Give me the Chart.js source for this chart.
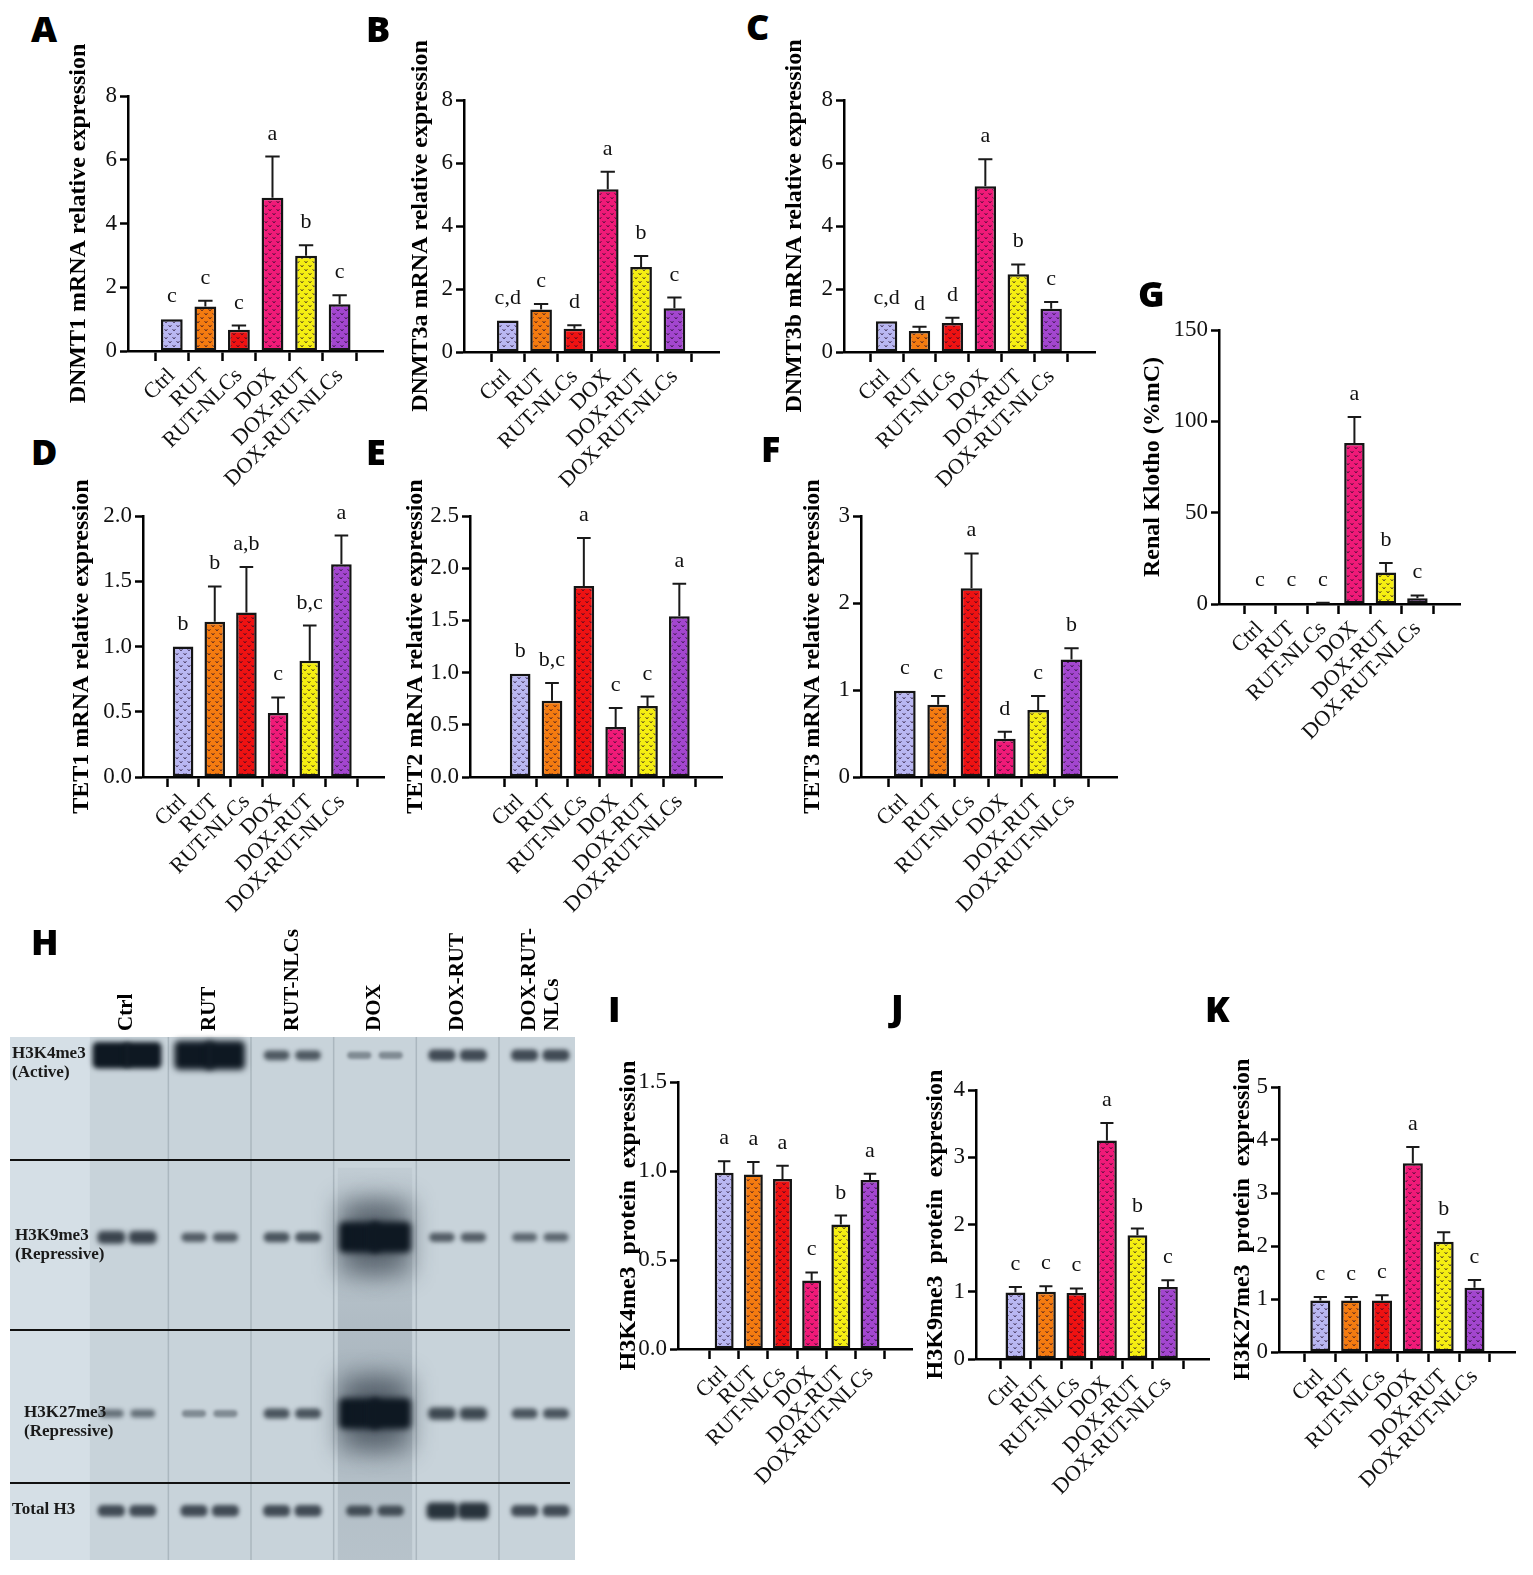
<!DOCTYPE html>
<html>
<head>
<meta charset="utf-8">
<script src="https://cdn.jsdelivr.net/npm/chart.js@4.4.1/dist/chart.umd.min.js"></script>
<style>
    html, body { margin: 0; padding: 0; background: #fff; }
    #fig { position: relative; width: 1533px; height: 1575px; overflow: hidden; background: #fff; }
    #fig canvas { position: absolute; }
    .tag { position: absolute; font-family: "Open Sans", sans-serif; font-weight: 800; font-size: 36px; line-height: 1; color: #000; }
</style>
</head>
<body>
<div id="fig"></div>
<script>
// ---- data ----
var groups = ['Ctrl', 'RUT', 'RUT-NLCs', 'DOX', 'DOX-RUT', 'DOX-RUT-NLCs'];
var barColors = ['#b9b7f2', '#f47b10', '#ee1212', '#f01a78', '#f5ee12', '#a346cf'];

// A - DNMT1
var dnmt1Mean = [1.0, 1.40, 0.67, 4.81, 2.99, 1.47];
var dnmt1Sem = [0, 0.18, 0.13, 1.29, 0.33, 0.28];
var dnmt1Sig = ['c', 'c', 'c', 'a', 'b', 'c'];
// B - DNMT3a
var dnmt3aMean = [1.0, 1.35, 0.74, 5.17, 2.70, 1.39];
var dnmt3aSem = [0, 0.17, 0.11, 0.55, 0.35, 0.34];
var dnmt3aSig = ['c,d', 'c', 'd', 'a', 'b', 'c'];
// C - DNMT3b
var dnmt3bMean = [0.98, 0.67, 0.92, 5.26, 2.47, 1.37];
var dnmt3bSem = [0, 0.13, 0.17, 0.86, 0.31, 0.22];
var dnmt3bSig = ['c,d', 'd', 'd', 'a', 'b', 'c'];
// D - TET1
var tet1Mean = [1.0, 1.19, 1.26, 0.49, 0.89, 1.63];
var tet1Sem = [0, 0.27, 0.35, 0.12, 0.27, 0.22];
var tet1Sig = ['b', 'b', 'a,b', 'c', 'b,c', 'a'];
// E - TET2
var tet2Mean = [0.99, 0.73, 1.83, 0.48, 0.68, 1.54];
var tet2Sem = [0, 0.17, 0.46, 0.18, 0.09, 0.31];
var tet2Sig = ['b', 'b,c', 'a', 'c', 'c', 'a'];
// F - TET3
var tet3Mean = [0.99, 0.83, 2.17, 0.44, 0.77, 1.35];
var tet3Sem = [0, 0.10, 0.40, 0.08, 0.16, 0.13];
var tet3Sig = ['c', 'c', 'a', 'd', 'c', 'b'];
// G - Klotho
var klothoMean = [0.3, 0.3, 0.6, 88.2, 17.3, 3.1];
var klothoSem = [0, 0, 0.1, 14.2, 5.1, 1.6];
var klothoSig = ['c', 'c', 'c', 'a', 'b', 'c'];
// I - H3K4me3
var h3k4Mean = [0.99, 0.98, 0.955, 0.385, 0.70, 0.95];
var h3k4Sem = [0.065, 0.07, 0.075, 0.045, 0.05, 0.035];
var h3k4Sig = ['a', 'a', 'a', 'c', 'b', 'a'];
// J - H3K9me3
var h3k9Mean = [0.99, 1.0, 0.98, 3.25, 1.84, 1.07];
var h3k9Sem = [0.08, 0.08, 0.07, 0.26, 0.10, 0.10];
var h3k9Sig = ['c', 'c', 'c', 'a', 'b', 'c'];
// K - H3K27me3
var h3k27Mean = [0.97, 0.97, 0.97, 3.56, 2.08, 1.21];
var h3k27Sem = [0.07, 0.07, 0.10, 0.31, 0.18, 0.15];
var h3k27Sig = ['c', 'c', 'c', 'a', 'b', 'c'];

// y tick labels
var ticksDnmt = [0, 2, 4, 6, 8];
var ticksTet1 = [0, 0.5, 1.0, 1.5, 2.0];
var ticksTet2 = [0, 0.5, 1.0, 1.5, 2.0, 2.5];
var ticksTet3 = [0, 1, 2, 3];
var ticksKlotho = [0, 50, 100, 150];
var ticksH3k4 = [0, 0.5, 1.0, 1.5];
var ticksH3k9 = [0, 1, 2, 3, 4];
var ticksH3k27 = [0, 1, 2, 3, 4, 5];

// western blot (H) band density, one value per group
var blotMarks = ['H3K4me3', 'H3K9me3', 'H3K27me3', 'Total H3'];
var blotNotes = ['(Active)', '(Repressive)', '(Repressive)', ''];
var bandH3k4 = [0.95, 0.98, 0.58, 0.3, 0.66, 0.66];
var bandH3k9 = [0.7, 0.55, 0.6, 1.0, 0.55, 0.5];
var bandH3k27 = [0.45, 0.3, 0.6, 1.0, 0.68, 0.6];
var bandTotal = [0.66, 0.66, 0.66, 0.62, 0.8, 0.66];

// ---- layout (pixels of the figure) ----
var panels = [
    { tag: 'A', title: 'DNMT1 mRNA relative expression', mean: dnmt1Mean, sem: dnmt1Sem, sig: dnmt1Sig, ticks: ticksDnmt, dec: 0,
      box: { axisX: 127.5, yTop: 96, y0: 351, first: 154.5, step: 40.2, right: 382, titleX: 78 } },
    { tag: 'B', title: 'DNMT3a mRNA relative expression', mean: dnmt3aMean, sem: dnmt3aSem, sig: dnmt3aSig, ticks: ticksDnmt, dec: 0,
      box: { axisX: 464, yTop: 100, y0: 352, first: 491, step: 40, right: 719, titleX: 420 } },
    { tag: 'C', title: 'DNMT3b mRNA relative expression', mean: dnmt3bMean, sem: dnmt3bSem, sig: dnmt3bSig, ticks: ticksDnmt, dec: 0,
      box: { axisX: 844, yTop: 100, y0: 352, first: 870, step: 39.5, right: 1095, titleX: 794 } },
    { tag: 'G', title: 'Renal Klotho (%mC)', mean: klothoMean, sem: klothoSem, sig: klothoSig, ticks: ticksKlotho, dec: 0,
      box: { axisX: 1219, yTop: 330, y0: 604, first: 1244, step: 37.8, right: 1460, titleX: 1152 } },
    { tag: 'D', title: 'TET1 mRNA relative expression', mean: tet1Mean, sem: tet1Sem, sig: tet1Sig, ticks: ticksTet1, dec: 1,
      box: { axisX: 143, yTop: 516, y0: 777, first: 167, step: 38, right: 384, titleX: 81 } },
    { tag: 'E', title: 'TET2 mRNA relative expression', mean: tet2Mean, sem: tet2Sem, sig: tet2Sig, ticks: ticksTet2, dec: 1,
      box: { axisX: 470, yTop: 516, y0: 777, first: 505, step: 38.2, right: 722, titleX: 415 } },
    { tag: 'F', title: 'TET3 mRNA relative expression', mean: tet3Mean, sem: tet3Sem, sig: tet3Sig, ticks: ticksTet3, dec: 0,
      box: { axisX: 861, yTop: 516, y0: 777, first: 888, step: 40, right: 1117, titleX: 812 } },
    { tag: 'I', title: 'H3K4me3  protein  expression', mean: h3k4Mean, sem: h3k4Sem, sig: h3k4Sig, ticks: ticksH3k4, dec: 1,
      box: { axisX: 678, yTop: 1082, y0: 1349, first: 710, step: 35, right: 912, titleX: 628 } },
    { tag: 'J', title: 'H3K9me3  protein  expression', mean: h3k9Mean, sem: h3k9Sem, sig: h3k9Sig, ticks: ticksH3k9, dec: 0,
      box: { axisX: 976, yTop: 1090, y0: 1359, first: 1000, step: 36.6, right: 1209, titleX: 935 } },
    { tag: 'K', title: 'H3K27me3  protein  expression', mean: h3k27Mean, sem: h3k27Sem, sig: h3k27Sig, ticks: ticksH3k27, dec: 0,
      box: { axisX: 1279, yTop: 1087, y0: 1352, first: 1305, step: 37, right: 1515, titleX: 1242 } }
];

var tags = { A: [31, 11], B: [366, 11], C: [746, 9], D: [31, 434], E: [366, 434], F: [761, 431],
             G: [1138, 276], H: [31, 924], I: [608, 991], J: [891, 989], K: [1205, 991] };

var SERIF = '"Liberation Serif", "Times New Roman", serif';
var fig = document.getElementById('fig');

function addCanvas(left, top, w, h) {
    var cv = document.createElement('canvas');
    cv.width = w;
    cv.height = h;
    cv.style.left = left + 'px';
    cv.style.top = top + 'px';
    cv.style.width = w + 'px';
    cv.style.height = h + 'px';
    fig.appendChild(cv);
    return cv;
}

// dotted "heart" fill like the original bars
function makePattern(color) {
    var t = document.createElement('canvas');
    t.width = 8;
    t.height = 8;
    var c = t.getContext('2d');
    c.fillStyle = color;
    c.fillRect(0, 0, 8, 8);
    c.strokeStyle = 'rgba(30,10,40,0.65)';
    c.lineWidth = 1;
    [[0.5, 1], [4.5, 5]].forEach(function (o) {
        c.beginPath();
        c.moveTo(o[0], o[1]);
        c.lineTo(o[0] + 1.5, o[1] + 2);
        c.lineTo(o[0] + 3, o[1]);
        c.stroke();
    });
    return c.createPattern(t, 'repeat');
}

function errorPlugin(p) {
    return {
        id: 'errbars',
        afterDatasetsDraw: function (chart) {
            var ctx = chart.ctx;
            var y = chart.scales.y;
            var meta = chart.getDatasetMeta(0);
            meta.data.forEach(function (bar, i) {
                var top = y.getPixelForValue(p.mean[i] + p.sem[i]);
                var half = bar.width * 0.33;
                ctx.save();
                ctx.strokeStyle = '#1a1a1a';
                ctx.lineWidth = 2;
                if (p.sem[i] > 0) {
                    ctx.beginPath();
                    ctx.moveTo(bar.x, bar.y);
                    ctx.lineTo(bar.x, top);
                    ctx.moveTo(bar.x - half, top);
                    ctx.lineTo(bar.x + half, top);
                    ctx.stroke();
                }
                ctx.fillStyle = '#111';
                ctx.font = '22px ' + SERIF;
                ctx.textAlign = 'center';
                ctx.textBaseline = 'alphabetic';
                ctx.fillText(p.sig[i], bar.x, Math.min(top, bar.y) - 17);
                ctx.restore();
            });
        }
    };
}

function drawPanel(p) {
    var L = p.box;
    var titleOff = 24 * 1.2 / 2 + 4;
    var yW = Math.round(L.axisX - (L.titleX - titleOff));
    var plotW = L.right - L.axisX;
    var plotH = L.y0 - L.yTop;
    var padTop = 72, padR = 14, xH = 170;
    var cv = addCanvas(Math.round(L.axisX - yW), L.yTop - padTop, Math.round(yW + plotW + padR), padTop + plotH + xH);
    var xMin = -(L.first - L.axisX) / L.step;
    var xMax = (L.right - L.first) / L.step;
    var points = p.mean.map(function (v, i) { return { x: i, y: v }; });

    new Chart(cv, {
        type: 'bar',
        data: {
            datasets: [{
                data: points,
                backgroundColor: barColors.map(makePattern),
                borderColor: '#141414',
                borderWidth: 2.5,
                borderSkipped: false,
                barPercentage: 0.65,
                categoryPercentage: 1
            }]
        },
        options: {
            responsive: false,
            animation: false,
            layout: { padding: { top: padTop, right: padR, left: 0, bottom: 0 } },
            plugins: { legend: { display: false }, tooltip: { enabled: false } },
            scales: {
                x: {
                    type: 'linear',
                    min: xMin,
                    max: xMax,
                    afterFit: function (s) { s.height = xH; },
                    afterBuildTicks: function (s) {
                        s.ticks = groups.map(function (g, i) { return { value: i }; });
                    },
                    ticks: {
                        autoSkip: false,
                        minRotation: 45,
                        maxRotation: 45,
                        padding: 2,
                        color: '#111',
                        font: { family: SERIF, size: 22 },
                        callback: function (v) { return groups[v]; }
                    },
                    grid: { drawOnChartArea: false, drawTicks: true, tickLength: 10, tickWidth: 2.5, tickColor: '#000' },
                    border: { color: '#000', width: 2.5 }
                },
                y: {
                    min: 0,
                    max: p.ticks[p.ticks.length - 1],
                    afterFit: function (s) { s.width = yW; },
                    afterBuildTicks: function (s) {
                        s.ticks = p.ticks.map(function (t) { return { value: t }; });
                    },
                    ticks: {
                        padding: 3,
                        color: '#111',
                        font: { family: SERIF, size: 23 },
                        callback: function (v) { return v.toFixed(p.dec); }
                    },
                    grid: { drawOnChartArea: false, drawTicks: true, tickLength: 8, tickWidth: 2.5, tickColor: '#000' },
                    border: { color: '#000', width: 2.5 },
                    title: {
                        display: true,
                        text: p.title,
                        color: '#000',
                        padding: { top: 4, bottom: 4 },
                        font: { family: SERIF, size: 24, weight: 'bold' }
                    }
                }
            }
        },
        plugins: [errorPlugin(p)]
    });
}

// ---- blot (H) ----
var blotBox = { left: 10, top: 1037, right: 575, bottom: 1560, canvasTop: 925 };
var blotRowY = [0.035, 0.383, 0.72, 0.906];
var blotDividers = [0.235, 0.56, 0.853];
var laneOff = 0.19;

var blotPlugin = {
    id: 'blot',
    beforeDatasetsDraw: function (chart) {
        var ctx = chart.ctx, ca = chart.chartArea;
        var xs = chart.scales.x, ys = chart.scales.y;
        var w = ca.right - ca.left, h = ca.bottom - ca.top;
        ctx.save();
        ctx.fillStyle = '#c8d3da';
        ctx.fillRect(ca.left, ca.top, w, h);
        var strip = xs.getPixelForValue(-0.45);
        ctx.fillStyle = '#d5dfe6';
        ctx.fillRect(ca.left, ca.top, strip - ca.left, h);
        // lane boundaries
        ctx.lineWidth = 1.5;
        for (var g = 0; g < groups.length - 1; g++) {
            var gx = xs.getPixelForValue(g + 0.5);
            ctx.strokeStyle = 'rgba(105,120,130,0.3)';
            ctx.beginPath();
            ctx.moveTo(gx, ca.top);
            ctx.lineTo(gx, ca.bottom);
            ctx.stroke();
        }
        // DOX lane smear
        var sTop = ys.getPixelForValue(0.25);
        var dx0 = xs.getPixelForValue(2.55), dx1 = xs.getPixelForValue(3.45);
        var sm = ctx.createLinearGradient(0, sTop, 0, ca.bottom);
        sm.addColorStop(0, 'rgba(60,75,90,0.05)');
        sm.addColorStop(0.5, 'rgba(60,75,90,0.2)');
        sm.addColorStop(1, 'rgba(60,75,90,0.12)');
        ctx.fillStyle = sm;
        ctx.fillRect(dx0, sTop, dx1 - dx0, ca.bottom - sTop);

        // bands
        var unit = xs.getPixelForValue(1) - xs.getPixelForValue(0);
        var ds = chart.data.datasets[0].data;
        chart.getDatasetMeta(0).data.forEach(function (pt, i) {
            var lv = ds[i].lv;
            var bh = 7 + 24 * Math.pow(lv, 4);
            var hw = unit * (0.145 + 0.1 * Math.pow(lv, 4));
            if (lv > 0.99) {
                ctx.filter = 'blur(12px)';
                ctx.fillStyle = 'rgba(20,30,42,0.5)';
                ctx.fillRect(pt.x - hw, pt.y - bh * 1.2, 2 * hw, bh * 2.4);
            }
            ctx.filter = 'blur(' + (1.2 + 1.8 * lv) + 'px)';
            ctx.fillStyle = 'rgba(14,24,34,' + Math.min(1, 0.1 + 0.95 * lv) + ')';
            ctx.beginPath();
            if (ctx.roundRect) {
                ctx.roundRect(pt.x - hw, pt.y - bh / 2, 2 * hw, bh, Math.min(bh / 2, 5));
            } else {
                ctx.rect(pt.x - hw, pt.y - bh / 2, 2 * hw, bh);
            }
            ctx.fill();
        });
        ctx.filter = 'none';

        // row dividers
        ctx.strokeStyle = '#111';
        ctx.lineWidth = 2;
        blotDividers.forEach(function (f) {
            var yy = ys.getPixelForValue(f);
            ctx.beginPath();
            ctx.moveTo(ca.left, yy);
            ctx.lineTo(ca.right - 5, yy);
            ctx.stroke();
        });

        // row labels
        var rowX = [2, 5, 14, 2];
        ctx.fillStyle = '#1a1a1a';
        ctx.font = 'bold 17px ' + SERIF;
        ctx.textAlign = 'left';
        ctx.textBaseline = 'alphabetic';
        blotMarks.forEach(function (m, r) {
            var yy = ys.getPixelForValue(blotRowY[r]);
            ctx.fillText(m, ca.left + rowX[r], yy + 3);
            if (blotNotes[r]) ctx.fillText(blotNotes[r], ca.left + rowX[r], yy + 22);
        });

        // lane headers
        ctx.fillStyle = '#000';
        ctx.font = 'bold 21px ' + SERIF;
        ctx.textBaseline = 'middle';
        groups.forEach(function (g, i) {
            var gx = xs.getPixelForValue(i);
            var lines = g.length > 10 ? ['DOX-RUT-', 'NLCs'] : [g];
            lines.forEach(function (txt, k) {
                var lx = gx + (lines.length > 1 ? (k === 0 ? -11 : 12) : 0);
                ctx.save();
                ctx.translate(lx, ca.top - 6);
                ctx.rotate(-Math.PI / 2);
                ctx.fillText(txt, 0, 0);
                ctx.restore();
            });
        });
        ctx.restore();
    }
};

function drawBlot() {
    var B = blotBox;
    var cv = addCanvas(0, B.canvasTop, 580, 1575 - B.canvasTop);
    var rows = [bandH3k4, bandH3k9, bandH3k27, bandTotal];
    var pts = [];
    rows.forEach(function (row, r) {
        row.forEach(function (lv, g) {
            pts.push({ x: g - laneOff, y: blotRowY[r], lv: lv });
            pts.push({ x: g + laneOff, y: blotRowY[r], lv: lv });
        });
    });
    new Chart(cv, {
        type: 'scatter',
        data: { datasets: [{ data: pts, pointRadius: 0 }] },
        options: {
            responsive: false,
            animation: false,
            layout: { padding: { left: B.left, top: B.top - B.canvasTop, right: 580 - B.right, bottom: 1575 - B.bottom } },
            plugins: { legend: { display: false }, tooltip: { enabled: false } },
            scales: {
                x: { type: 'linear', display: false, min: -1.416, max: 5.42 },
                y: { type: 'linear', display: false, min: 0, max: 1, reverse: true }
            }
        },
        plugins: [blotPlugin]
    });
}

drawBlot();
panels.forEach(drawPanel);

Object.keys(tags).forEach(function (k) {
    var d = document.createElement('div');
    d.className = 'tag';
    d.textContent = k;
    d.style.left = tags[k][0] + 'px';
    d.style.top = tags[k][1] + 'px';
    fig.appendChild(d);
});
</script>
</body>
</html>
